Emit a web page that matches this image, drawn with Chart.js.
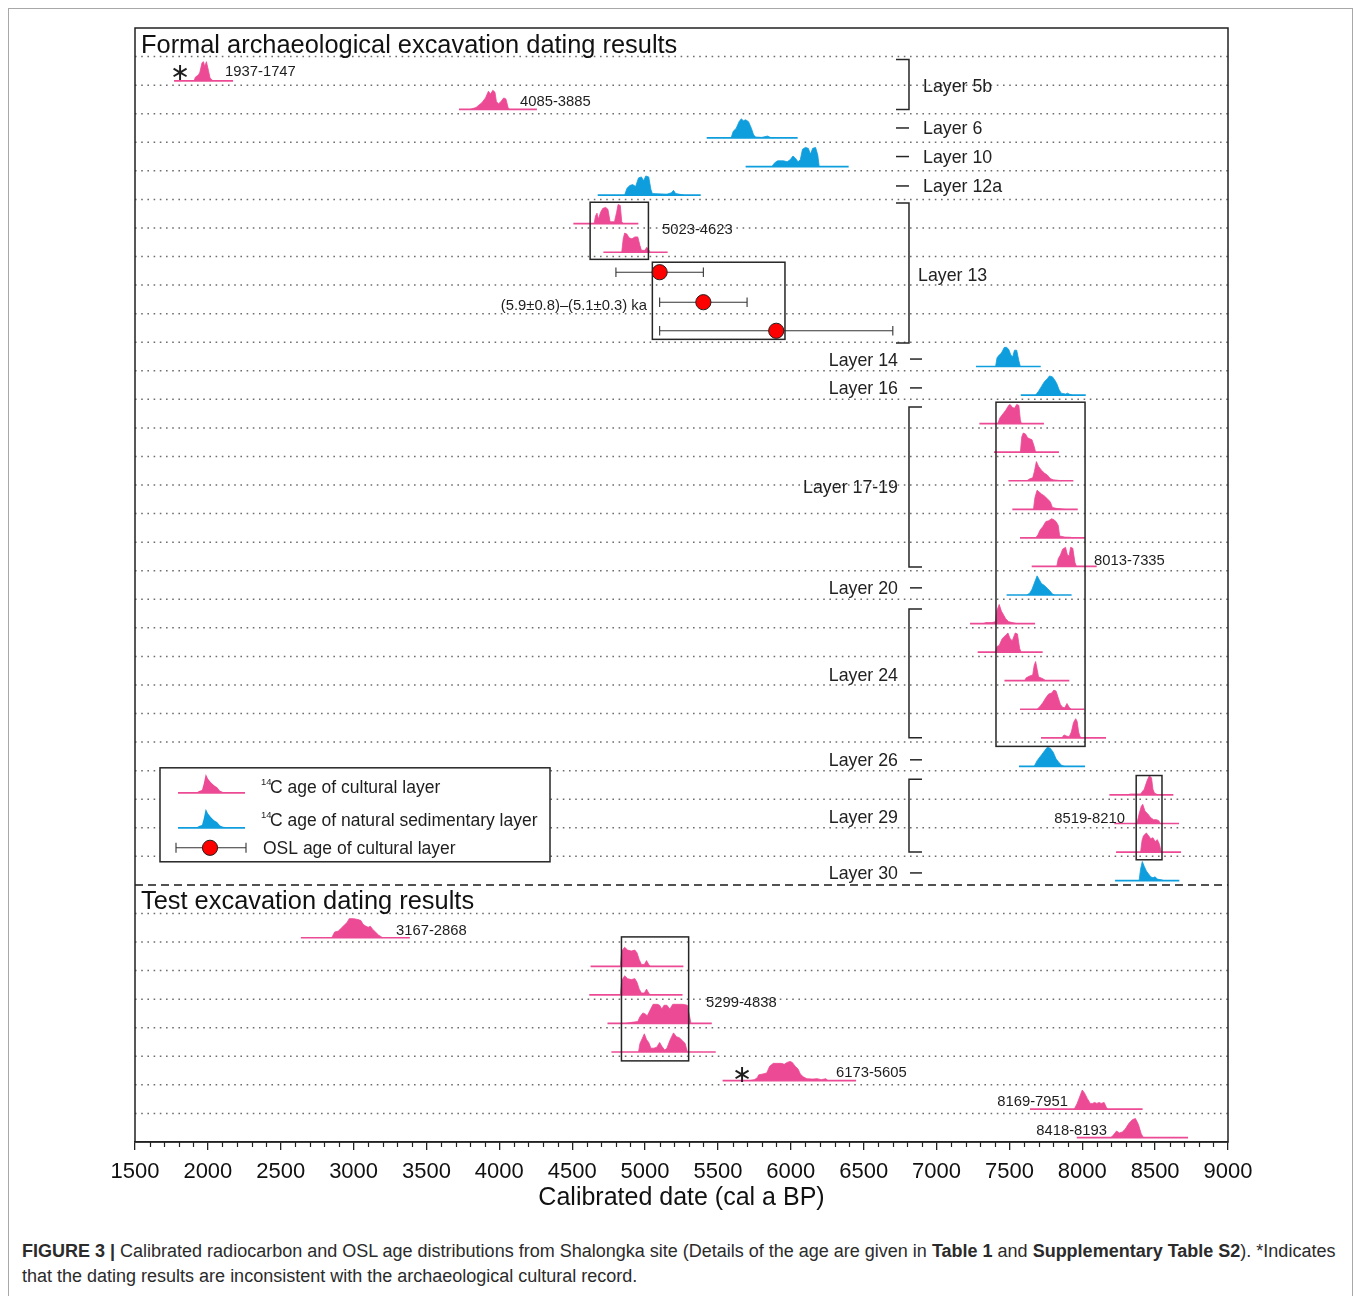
<!DOCTYPE html>
<html>
<head>
<meta charset="utf-8">
<title>Shalongka dating results</title>
<script src="https://cdn.jsdelivr.net/npm/chart.js@4.4.1/dist/chart.umd.min.js"></script>
<style>
  html, body { margin: 0; padding: 0; background: #fff; }
  #frame { position: absolute; left: 8px; top: 8px; width: 1343px; height: 1300px;
           border: 1px solid #a8a8a8; border-bottom: none; }
  #wrap { position: absolute; left: 0; top: 0; width: 1360px; height: 1230px; }
  #caption { position: absolute; left: 22px; top: 1239px; white-space: nowrap;
             font-family: 'Liberation Sans', Arial, sans-serif; font-size: 18px;
             line-height: 25px; color: #2b2b2b; }
</style>
</head>
<body>
<div id="frame"></div>
<div id="wrap"><canvas id="chart" width="1360" height="1230"></canvas></div>
<div id="caption"><b>FIGURE 3 |</b> Calibrated radiocarbon and OSL age distributions from Shalongka site (Details of the age are given in <b>Table 1</b> and <b>Supplementary Table S2</b>). *Indicates<br>that the dating results are inconsistent with the archaeological cultural record.</div>
<script>
// ---------------------------------------------------------------
// Calibrated probability densities: [cal a BP, relative density]
// ---------------------------------------------------------------
const d_1937_1747 = [[1905,0],[1915,0.2],[1935,0.3],[1945,0.45],[1960,0.95],[1970,1],[1978,0.75],[1990,1],[2005,0.5],[2015,0.15],[2035,0]];
const d_4085_3885 = [[3800,0],[3840,0.1],[3880,0.35],[3905,0.6],[3925,0.95],[3940,0.8],[3955,1],[3970,0.9],[3980,0.4],[3995,0.3],[4010,0.4],[4030,0.6],[4045,0.55],[4060,0.1],[4070,0]];
const d_L6   = [[5590,0],[5605,0.35],[5625,0.5],[5645,0.85],[5660,1],[5675,0.9],[5690,0.95],[5710,0.85],[5730,0.5],[5745,0.15],[5760,0.05],[5800,0.03],[5840,0.1],[5860,0.03],[5880,0]];
const d_L10  = [[5870,0],[5890,0.2],[5910,0.3],[5950,0.3],[5975,0.25],[5995,0.35],[6015,0.55],[6030,0.45],[6050,0.25],[6065,0.35],[6080,0.9],[6100,1],[6120,0.95],[6135,0.65],[6150,0.95],[6170,1],[6185,0.6],[6195,0]];
const d_L12a = [[4860,0],[4875,0.35],[4895,0.5],[4915,0.55],[4935,0.45],[4955,0.9],[4975,0.95],[4990,0.75],[5005,1],[5025,0.95],[5040,0.3],[5050,0.08],[5150,0.05],[5180,0.12],[5195,0.25],[5210,0.08],[5240,0.04],[5265,0]];
const d_L13a = [[4650,0],[4660,0.4],[4670,0.55],[4680,0.25],[4695,0.6],[4710,0.8],[4730,0.85],[4745,0.75],[4760,0.1],[4790,0.1],[4805,0.6],[4815,1],[4830,0.95],[4840,0.1],[4850,0]];
const d_L13b = [[4840,0],[4850,0.7],[4860,1],[4875,0.95],[4890,0.75],[4910,0.7],[4930,0.8],[4950,0.8],[4965,0.35],[4975,0.1],[5000,0.1],[5010,0.25],[5020,0.2],[5035,0]];
const d_L14  = [[7405,0],[7415,0.45],[7430,0.6],[7445,0.7],[7465,1],[7480,1],[7495,0.9],[7510,0.6],[7522,0.5],[7535,0.85],[7550,0.85],[7565,0.3],[7575,0]];
const d_L16  = [[7680,0],[7700,0.2],[7720,0.45],[7740,0.7],[7760,0.85],[7775,1],[7795,0.95],[7810,0.8],[7825,0.6],[7840,0.3],[7855,0.1],[7885,0.05],[7900,0.1],[7915,0.03],[7930,0]];
const d_L17a = [[7420,0],[7435,0.3],[7455,0.5],[7475,0.7],[7495,0.95],[7505,1],[7520,0.85],[7535,0.8],[7550,1],[7565,0.95],[7575,0.2],[7582,0]];
const d_L17b = [[7575,0],[7585,0.8],[7595,1],[7610,0.95],[7625,0.75],[7640,0.7],[7655,0.65],[7670,0.3],[7680,0]];
const d_L17c = [[7620,0],[7640,0.1],[7660,0.15],[7672,0.5],[7685,1],[7700,0.75],[7720,0.55],[7740,0.4],[7760,0.3],[7780,0.12],[7800,0.05],[7860,0]];
const d_L17d = [[7665,0],[7675,0.6],[7690,1],[7705,0.9],[7720,0.8],[7740,0.7],[7760,0.55],[7780,0.4],[7795,0.1],[7820,0.05],[7880,0]];
const d_L17e = [[7680,0],[7695,0.15],[7710,0.4],[7730,0.6],[7750,0.85],[7770,0.9],[7790,1],[7805,0.95],[7820,0.85],[7835,0.65],[7845,0.1],[7880,0.04],[7920,0.03],[7940,0]];
const d_L17f = [[7825,0],[7835,0.4],[7850,0.6],[7865,0.9],[7885,1],[7898,0.6],[7910,0.55],[7920,1],[7935,0.95],[7950,0.2],[7960,0]];
const d_L20  = [[7620,0],[7640,0.1],[7655,0.3],[7670,0.6],[7690,1],[7705,0.8],[7720,0.6],[7740,0.5],[7760,0.35],[7780,0.2],[7795,0.05],[7810,0]];
const d_L24a = [[7320,0],[7340,0.05],[7380,0.05],[7405,0.1],[7415,0.7],[7430,1],[7445,0.65],[7460,0.45],[7475,0.25],[7495,0.1],[7520,0.05],[7550,0]];
const d_L24b = [[7405,0],[7415,0.3],[7430,0.35],[7450,0.7],[7470,0.85],[7490,1],[7505,0.7],[7520,0.6],[7540,1],[7555,0.95],[7570,0.2],[7580,0]];
const d_L24c = [[7605,0],[7615,0.15],[7640,0.25],[7660,0.3],[7670,0.8],[7680,1],[7690,0.6],[7700,0.2],[7730,0.1],[7750,0]];
const d_L24d = [[7690,0],[7710,0.15],[7730,0.35],[7750,0.6],[7770,0.8],[7790,0.85],[7805,1],[7820,0.95],[7835,0.6],[7850,0.25],[7865,0.1],[7880,0.08],[7895,0.3],[7910,0.1],[7925,0]];
const d_L24e = [[7860,0],[7875,0.15],[7890,0.1],[7910,0.05],[7925,0.3],[7940,0.8],[7955,1],[7965,0.85],[7975,0.3],[7985,0.05],[8000,0]];
const d_L26  = [[7670,0],[7690,0.3],[7720,0.6],[7745,0.85],[7760,1],[7780,0.95],[7800,0.75],[7820,0.4],[7840,0.2],[7860,0.05],[7880,0]];
const d_L29a = [[8310,0],[8330,0.05],[8360,0.05],[8400,0.05],[8425,0.3],[8445,0.75],[8460,1],[8475,0.9],[8485,0.3],[8495,0.1],[8520,0]];
const d_L29b = [[8375,0],[8390,0.5],[8405,0.9],[8415,1],[8430,0.65],[8450,0.5],[8470,0.3],[8490,0.2],[8510,0.2],[8525,0.15],[8535,0]];
const d_L29c = [[8400,0],[8410,0.6],[8420,0.85],[8440,1],[8455,0.85],[8470,0.7],[8485,0.75],[8500,0.55],[8515,0.65],[8530,0.4],[8540,0.05],[8545,0]];
const d_L30  = [[8390,0],[8400,0.6],[8412,1],[8425,0.75],[8440,0.5],[8455,0.35],[8470,0.2],[8485,0.15],[8500,0.2],[8515,0.08],[8550,0.03],[8560,0]];
const d_T3167 = [[2850,0],[2870,0.3],[2895,0.35],[2915,0.5],[2935,0.65],[2955,0.8],[2970,1],[3000,1],[3030,0.95],[3050,0.9],[3065,0.7],[3085,0.6],[3100,0.55],[3115,0.6],[3130,0.45],[3150,0.3],[3170,0.15],[3200,0]];
const d_T5299a = [[4830,0],[4840,0.8],[4860,1],[4880,0.85],[4905,0.8],[4930,0.85],[4945,0.7],[4960,0.35],[4975,0.1],[4995,0.1],[5010,0.3],[5025,0.1],[5035,0]];
const d_T5299b = [[4830,0],[4840,0.75],[4860,1],[4880,0.85],[4905,0.8],[4930,0.85],[4945,0.65],[4960,0.3],[4975,0.1],[4995,0.1],[5010,0.3],[5025,0.1],[5035,0]];
const d_T5299c = [[4860,0],[4900,0.05],[4950,0.1],[4965,0.35],[4985,0.55],[5000,0.5],[5015,0.4],[5035,0.7],[5055,1],[5085,1],[5100,0.95],[5115,0.75],[5130,0.95],[5150,0.95],[5170,0.75],[5190,1],[5230,1],[5260,1],[5290,0.95],[5305,0.4],[5315,0]];
const d_T5299d = [[4955,0],[4965,0.45],[4980,0.7],[4995,0.95],[5010,0.65],[5025,0.5],[5040,0.2],[5060,0.2],[5080,0.25],[5100,0.5],[5115,0.3],[5135,0.1],[5150,0.2],[5170,0.6],[5195,1],[5215,0.8],[5235,0.75],[5255,0.6],[5275,0.45],[5290,0]];
const d_T6173 = [[5720,0],[5750,0.05],[5770,0.15],[5780,0.3],[5810,0.35],[5835,0.4],[5855,0.75],[5880,0.9],[5910,0.9],[5935,0.9],[5955,0.85],[5975,0.95],[5995,1],[6010,0.95],[6030,0.75],[6050,0.6],[6065,0.35],[6085,0.2],[6110,0.1],[6150,0.08],[6180,0.1],[6210,0.05],[6240,0.1],[6255,0]];
const d_T8169 = [[7945,0],[7965,0.3],[7985,0.7],[8000,1],[8015,0.85],[8035,0.55],[8055,0.3],[8070,0.3],[8085,0.35],[8100,0.3],[8115,0.35],[8130,0.3],[8150,0.35],[8165,0.1],[8175,0]];
const d_T8418 = [[8195,0],[8215,0.15],[8235,0.35],[8255,0.25],[8275,0.3],[8295,0.45],[8320,0.75],[8345,0.95],[8365,1],[8385,0.7],[8405,0.2],[8420,0]];

// Sample rows: [row, layer type ('c' cultural / 'n' natural), plotted range from, to, density]
const samples = [
  [2,'c',1768,2173,d_1937_1747], [3,'c',3723,4258,d_4085_3885],
  [4,'n',5423,6047,d_L6], [5,'n',5690,6397,d_L10], [6,'n',4675,5382,d_L12a],
  [7,'c',4508,4954,d_L13a], [8,'c',4714,5155,d_L13b],
  [12,'n',7271,7715,d_L14], [13,'n',7578,8024,d_L16],
  [14,'c',7294,7737,d_L17a], [15,'c',7394,7840,d_L17b], [16,'c',7493,7939,d_L17c],
  [17,'c',7520,7969,d_L17d], [18,'c',7573,8019,d_L17e], [19,'c',7653,8099,d_L17f],
  [20,'n',7481,7927,d_L20],
  [21,'c',7230,7676,d_L24a], [22,'c',7282,7728,d_L24b], [23,'c',7466,7911,d_L24c],
  [24,'c',7573,8015,d_L24d], [25,'c',7717,8163,d_L24e],
  [26,'n',7566,8019,d_L26],
  [27,'c',8186,8625,d_L29a], [28,'c',8220,8664,d_L29b], [29,'c',8232,8678,d_L29c],
  [30,'n',8225,8666,d_L30],
  [32,'c',2638,3386,d_T3167], [33,'c',4626,5263,d_T5299a], [34,'c',4617,5257,d_T5299b],
  [35,'c',4742,5458,d_T5299c], [36,'c',4769,5485,d_T5299d], [37,'c',5532,6448,d_T6173],
  [38,'c',7641,8414,d_T8169], [39,'c',7962,8726,d_T8418]
];

// OSL ages of Layer 13 (a BP) and their 1-sigma errors
const oslAge  = [5100, 5400, 5900];
const oslErr  = [300, 300, 800];
const oslRow  = [8.55, 9.6, 10.6];

// Grouping boxes: year ranges and row ranges
const boxYears = [[4623,5023],[5050,5960],[7408,8019],[8370,8547],[4838,5299]];
const boxRows  = [[6.1,8.1],[8.2,10.9],[13.1,25.15],[26.17,29.12],[31.82,36.16]];

// Stratigraphic layers: name, first row, last row (equal rows = single dash)
const layerNames = ['Layer 5b','Layer 6','Layer 10','Layer 12a','Layer 13','Layer 14','Layer 16','Layer 17-19','Layer 20','Layer 24','Layer 26','Layer 29','Layer 30'];
const layerFrom  = [1.1, 3.5, 4.5, 5.53, 6.13, 11.59, 12.6, 13.27, 19.6, 20.34, 25.62, 26.3, 29.58];
const layerTo    = [2.85, 3.5, 4.5, 5.53, 11.03, 11.59, 12.6, 18.87, 19.6, 24.85, 25.62, 28.85, 29.58];
const layerLabelRow = [2.0, 3.5, 4.5, 5.53, 8.65, 11.62, 12.6, 16.07, 19.6, 22.65, 25.62, 27.62, 29.58];

// Range annotations
const rangeText = ['1937-1747','4085-3885','5023-4623','(5.9\u00b10.8)\u2013(5.1\u00b10.3) ka','8013-7335','8519-8210','3167-2868','5299-4838','6173-5605','8169-7951','8418-8193'];
const rangeYear = [2118, 4142, 5116, 5013, 8081, 8293, 3291, 5418, 6310, 7902, 8170];
const rangeRow  = [1.5, 2.52, 7.0, 9.66, 18.62, 27.62, 31.57, 34.09, 36.54, 37.56, 38.57];
const rangeAlign = ['left','left','left','right','left','right','left','left','left','right','right'];
// Samples inconsistent with the cultural record
const flagYear = [1809, 5665];
const flagRow  = [1.52, 36.6];

// Axis ticks
const X_MIN = 1500, X_MAX = 9000, MAJOR = 500, MINOR = 100;
const ROWS = 39;

// ---------------------------------------------------------------
const PINK = '#EC4A94';
const BLUE = '#0F9EDD';
const PEAK = 0.67;   // row units for a density of 1
const LIFT = 0.15;   // baseline sits slightly above its guide line
const FONT = "'Liberation Sans', Arial, Helvetica, sans-serif";

Chart.defaults.font.family = FONT;

const datasets = [];

// dotted row guides and the dashed section separator
for (let k = 1; k < ROWS; k++) {
  const sep = (k === 30);
  datasets.push({
    data: [{x: X_MIN, y: k}, {x: X_MAX, y: k}],
    borderColor: sep ? '#1a1a1a' : '#6e6e6e',
    borderWidth: 1.5,
    borderDash: sep ? [8, 5] : [1.6, 4.6],
    pointRadius: 0, fill: false, order: 20
  });
}

// probability distributions
for (const [row, kind, from, to, dens] of samples) {
  const base = row - LIFT;
  const col = kind === 'c' ? PINK : BLUE;
  datasets.push({
    data: [{x: from, y: base}, {x: to, y: base}],
    borderColor: col, borderWidth: 1.7, pointRadius: 0, fill: false, order: 10
  });
  datasets.push({
    data: dens.map(([x, p]) => ({x: x, y: base - p * PEAK})),
    borderColor: col, backgroundColor: col, borderWidth: 0.8,
    pointRadius: 0, fill: {value: base}, order: 5
  });
}

// OSL error bars and central ages
for (let i = 0; i < oslAge.length; i++) {
  datasets.push({
    data: [{x: oslAge[i] - oslErr[i], y: oslRow[i]}, {x: oslAge[i] + oslErr[i], y: oslRow[i]}],
    borderColor: '#333', borderWidth: 1.1, fill: false,
    pointStyle: 'line', pointRadius: 4.8, pointRotation: 90,
    pointBorderColor: '#333', pointBorderWidth: 1.1, order: 2
  });
}
datasets.push({
  data: oslAge.map((a, i) => ({x: a, y: oslRow[i]})),
  showLine: false, pointRadius: 7.6, pointBackgroundColor: '#FF0000',
  pointBorderColor: '#222', pointBorderWidth: 1, order: 1
});

function textAt(ctx, str, px, py, size, align, weight) {
  ctx.font = (weight || '') + ' ' + size + 'px ' + FONT;
  ctx.textAlign = align || 'left';
  ctx.textBaseline = 'middle';
  ctx.fillText(str, px, py + 1.5);
}

const decorations = {
  id: 'decorations',
  afterDatasetsDraw(chart) {
    const {ctx, chartArea: ca, scales: {x, y}} = chart;
    const X = v => x.getPixelForValue(v);
    const Y = v => y.getPixelForValue(v);
    ctx.save();

    // grouping boxes
    ctx.strokeStyle = '#262626';
    ctx.lineWidth = 1.5;
    boxYears.forEach((yr, i) => {
      const x0 = X(yr[0]), x1 = X(yr[1]), y0 = Y(boxRows[i][0]), y1 = Y(boxRows[i][1]);
      ctx.strokeRect(x0, y0, x1 - x0, y1 - y0);
    });

    // layer brackets, dashes and names
    const xv = X(6811);           // bracket spine
    ctx.fillStyle = '#222';
    layerNames.forEach((name, i) => {
      const upper = i < 5;
      const y0 = Y(layerFrom[i]), y1 = Y(layerTo[i]);
      ctx.beginPath();
      if (layerFrom[i] === layerTo[i]) {
        const a = upper ? xv - 13 : xv + 1, b = upper ? xv : xv + 13;
        ctx.moveTo(a, y0); ctx.lineTo(b, y0);
      } else {
        const t = upper ? xv - 13 : xv + 13;
        ctx.moveTo(t, y0); ctx.lineTo(xv, y0); ctx.lineTo(xv, y1); ctx.lineTo(t, y1);
      }
      ctx.stroke();
      const ly = Y(layerLabelRow[i]);
      if (upper) textAt(ctx, name, (i === 4 ? xv + 9 : xv + 14), ly, 17.8, 'left');
      else textAt(ctx, name, xv - 11, ly, 17.8, 'right');
    });

    // range annotations
    ctx.fillStyle = '#1e1e1e';
    rangeText.forEach((t, i) => textAt(ctx, t, X(rangeYear[i]), Y(rangeRow[i]), 14.8, rangeAlign[i]));
    ctx.font = "24px 'DejaVu Sans'";
    ctx.textAlign = 'center';
    flagYear.forEach((f, i) => ctx.fillText('\u2217', X(f), Y(flagRow[i]) + 2));

    // section headings
    ctx.fillStyle = '#111';
    textAt(ctx, 'Formal archaeological excavation dating results', ca.left + 6, Y(0.58), 25.4, 'left');
    textAt(ctx, 'Test excavation dating results', ca.left + 6, Y(30.56), 25.4, 'left');

    // legend
    const L = ca.left + 25, R = ca.left + 415, T = Y(25.9), B = Y(29.19);
    ctx.fillStyle = '#fff';
    ctx.fillRect(L, T, R - L, B - T);
    ctx.strokeStyle = '#262626';
    ctx.lineWidth = 1.5;
    ctx.strokeRect(L, T, R - L, B - T);
    const miniShape = (col, base) => {
      ctx.strokeStyle = col; ctx.fillStyle = col; ctx.lineWidth = 1.7;
      ctx.beginPath(); ctx.moveTo(L + 18, base); ctx.lineTo(L + 85, base); ctx.stroke();
      ctx.beginPath(); ctx.moveTo(L + 36, base);
      for (const [yr, p] of d_L17c) {
        const fx = L + 36 + (yr - 7620) / 240 * 36;
        ctx.lineTo(fx, base - p * 19);
      }
      ctx.closePath(); ctx.fill();
    };
    miniShape(PINK, Y(26.78));
    miniShape(BLUE, Y(28.0));
    // OSL symbol
    const oy = Y(28.7);
    ctx.strokeStyle = '#333'; ctx.lineWidth = 1.1;
    ctx.beginPath();
    ctx.moveTo(L + 16, oy); ctx.lineTo(L + 86, oy);
    ctx.moveTo(L + 16, oy - 5); ctx.lineTo(L + 16, oy + 5);
    ctx.moveTo(L + 86, oy - 5); ctx.lineTo(L + 86, oy + 5);
    ctx.stroke();
    ctx.beginPath(); ctx.arc(L + 50, oy, 7.6, 0, Math.PI * 2);
    ctx.fillStyle = '#FF0000'; ctx.fill();
    ctx.strokeStyle = '#222'; ctx.lineWidth = 1; ctx.stroke();
    // legend text
    ctx.fillStyle = '#1e1e1e';
    textAt(ctx, '14', L + 101, Y(26.57) - 6, 9.5, 'left');
    textAt(ctx, 'C age of cultural layer', L + 110, Y(26.57), 17.5, 'left');
    textAt(ctx, '14', L + 101, Y(27.72) - 6, 9.5, 'left');
    textAt(ctx, 'C age of natural sedimentary layer', L + 110, Y(27.72), 17.5, 'left');
    textAt(ctx, 'OSL age of cultural layer', L + 103, Y(28.7), 17.5, 'left');

    ctx.restore();
  },
  afterDraw(chart) {
    const {ctx, chartArea: ca, scales: {x}} = chart;
    ctx.save();
    ctx.strokeStyle = '#222';
    ctx.lineWidth = 1.5;
    ctx.strokeRect(ca.left, ca.top, ca.right - ca.left, ca.bottom - ca.top);
    ctx.lineWidth = 1.2;
    ctx.beginPath();
    for (let v = X_MIN + MINOR; v < X_MAX; v += MINOR) {
      if (v % MAJOR === 0) continue;
      const px = Math.round(x.getPixelForValue(v)) + 0.5;
      ctx.moveTo(px, ca.bottom); ctx.lineTo(px, ca.bottom + 5);
    }
    ctx.stroke();
    ctx.restore();
  }
};

new Chart(document.getElementById('chart'), {
  type: 'line',
  data: {datasets},
  options: {
    responsive: false,
    animation: false,
    events: [],
    layout: {padding: {left: 135, right: 132, top: 28, bottom: 15}},
    plugins: {legend: {display: false}, tooltip: {enabled: false}},
    elements: {line: {tension: 0}},
    scales: {
      x: {
        type: 'linear', min: X_MIN, max: X_MAX,
        afterFit: s => { s.height = 73; },
        ticks: {stepSize: MAJOR, color: '#111', font: {size: 22}, padding: 9, maxRotation: 0,
                callback: v => String(v)},
        grid: {drawOnChartArea: false, drawTicks: true, tickLength: 8, color: '#222', lineWidth: 1.3},
        border: {display: true, color: '#222', width: 1.5},
        title: {display: true, text: 'Calibrated date (cal a BP)', color: '#111',
                font: {size: 25}, padding: {top: 2, bottom: 2}}
      },
      y: {type: 'linear', min: 0, max: ROWS, reverse: true, display: false}
    }
  },
  plugins: [decorations]
});
</script>
</body>
</html>
